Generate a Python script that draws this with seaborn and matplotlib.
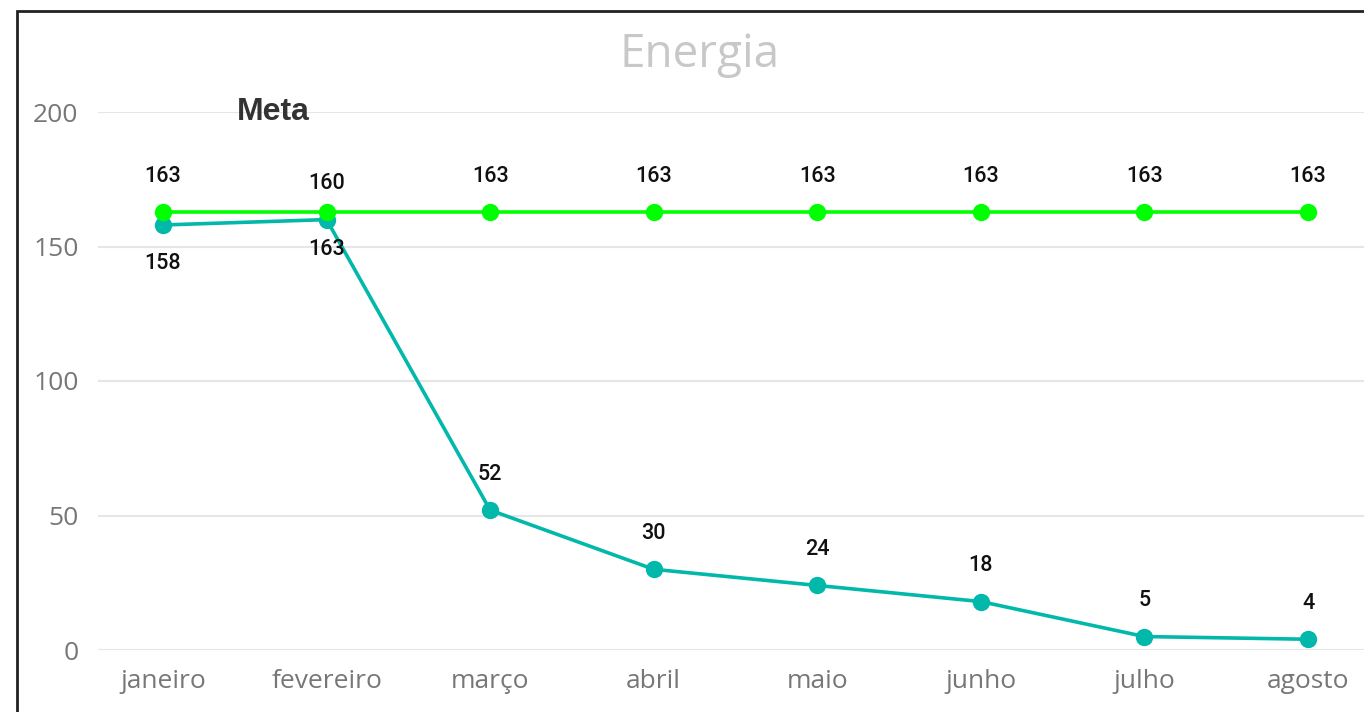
import pandas as pd
import numpy as np
import matplotlib.pyplot as plt
import seaborn as sns
from matplotlib.patches import Rectangle

meses = ["janeiro", "fevereiro", "março", "abril", "maio", "junho", "julho", "agosto"]
energia = [158, 160, 52, 30, 24, 18, 5, 4]
meta = [163, 163, 163, 163, 163, 163, 163, 163]
yticks = [0, 50, 100, 150, 200]

df = pd.DataFrame({"mes": meses, "pos": range(len(meses)), "energia": energia, "meta": meta})

sns.set_style("white")
plt.rcParams["font.family"] = ["Open Sans", "DejaVu Sans"]

fig = plt.figure(figsize=(13.64, 7.12), dpi=100)
ax = fig.add_axes([98 / 1364, 1 - 650 / 712, 1 - 98 / 1364, (650 - 112) / 712])

# series
sns.lineplot(data=df, x="pos", y="energia", ax=ax, color="#01B8AA", lw=2.6,
             marker="o", markersize=12.5, markeredgewidth=0, clip_on=False, zorder=3)
sns.lineplot(data=df, x="pos", y="meta", ax=ax, color="#00FF00", lw=2.6,
             marker="o", markersize=12.5, markeredgewidth=0, clip_on=False, zorder=4)

ax.set_ylim(0, 200)
ax.set_xlim(-65 / 163.6, 7 + 56 / 163.6)
ax.set_yticks(yticks)
ax.set_xticks(df.pos)
ax.set_xticklabels(meses)
ax.set(xlabel="", ylabel="")
ax.grid(axis="y", color="#e6e6e6", lw=1.5)
ax.grid(axis="x", visible=False)
for s in ax.spines.values():
    s.set_visible(False)
ax.tick_params(axis="both", length=0, labelsize=19, labelcolor="#777777")
ax.tick_params(axis="y", pad=14)
ax.tick_params(axis="x", pad=14)

# data labels
lab = dict(ha="center", va="center", fontsize=15.5, color="#111111",
           family=["Roboto", "DejaVu Sans"], fontweight="medium",
           textcoords="offset points")
for i, (e, m) in enumerate(zip(energia, meta)):
    up_e = 26 if i != 0 else -28
    up_m = 25 if i != 1 else -27
    ax.annotate(str(e), (i, e), xytext=(0, up_e), **lab)
    ax.annotate(str(m), (i, m), xytext=(0, up_m), **lab)

fig.text(273 / 1364, 1 - 112 / 712, "Meta", ha="center", va="center", fontsize=23,
         fontweight="bold", color="#333333", family=["Liberation Sans", "DejaVu Sans"])
fig.text(700 / 1364, 1 - 55 / 712, "Energia", ha="center", va="center", fontsize=33,
         color="#c8c8c8")

# frame
fig.patches.append(Rectangle((17 / 1364, -0.05), 1.1, 1.05 - 11 / 712,
                             transform=fig.transFigure, fill=False,
                             edgecolor="#222222", lw=2.0))

fig.savefig("out.png", dpi=100)
